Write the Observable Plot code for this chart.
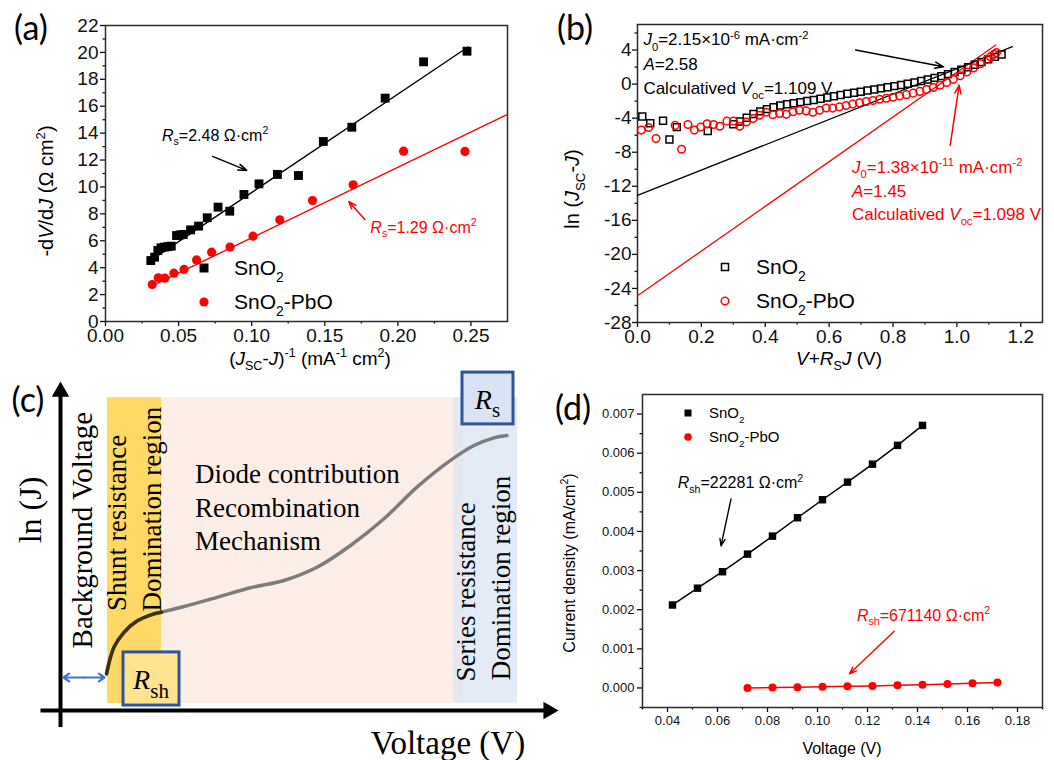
<!DOCTYPE html>
<html><head><meta charset="utf-8">
<script src="https://cdn.jsdelivr.net/npm/d3@7"></script>
<script src="https://cdn.jsdelivr.net/npm/@observablehq/plot@0.6"></script>
<style>
html,body{margin:0;padding:0;background:#fff;}
#fig{position:relative;width:1054px;height:760px;overflow:hidden;background:#fff;}
.panel{position:absolute;}
.panel svg{display:block;}
</style></head><body><div id="fig"></div>
<script>
const SANS = "'Liberation Sans', Arial, Helvetica, sans-serif";
const SERIF = "'Liberation Serif', 'Times New Roman', serif";
const TAG = "Lato, 'Open Sans', sans-serif";

// ---------- Panel (a): -dV/dJ vs (Jsc-J)^-1 ----------
const aSnO2 = [[0.031,4.53],[0.0336,4.78],[0.0358,5.28],[0.038,5.48],[0.0404,5.53],[0.0427,5.57],[0.045,5.6],[0.0486,6.39],[0.051,6.44],[0.0532,6.47],[0.0582,6.81],[0.0637,7.09],[0.0696,7.71],[0.077,8.5],[0.085,8.2],[0.0947,9.44],[0.105,10.23],[0.1176,10.93],[0.132,10.85],[0.149,13.38],[0.1685,14.44],[0.1913,16.6],[0.2176,19.3],[0.2473,20.09]];
const aPbO = [[0.032,2.75],[0.0361,3.25],[0.0406,3.22],[0.0468,3.59],[0.0537,3.87],[0.0623,4.58],[0.0726,5.15],[0.0852,5.53],[0.1009,6.34],[0.1192,7.56],[0.1416,8.99],[0.1694,10.16],[0.2039,12.66],[0.2459,12.64]];
const aFitSnO2 = [[0.029,4.4],[0.248,20.4]];
const aFitPbO = [[0.030,2.55],[0.275,15.4]];
const aArrowSnO2 = [{x1:0.0733,y1:12.27,x2:0.0966,y2:11.23}];
const aArrowPbO = [{x1:0.1774,y1:7.58,x2:0.1664,y2:8.92}];
const aTicksX = [0,0.05,0.1,0.15,0.2,0.25];
const aMinorX = [0.025,0.075,0.125,0.175,0.225];
const aTicksY = [0,2,4,6,8,10,12,14,16,18,20,22];
const aMinorY = [1,3,5,7,9,11,13,15,17,19,21];

// ---------- Panel (b): ln(Jsc-J) vs V+RsJ ----------
const bSnO2 = [[0.015,-3.8],[0.040,-4.6],[0.080,-4.3],[0.100,-6.5],[0.123,-5.05],[0.220,-5.5],
[0.300,-4.72],[0.321,-4.40],[0.342,-3.95],[0.363,-3.52],[0.384,-3.20],[0.405,-2.94],[0.426,-2.71],[0.447,-2.52],[0.468,-2.37],[0.489,-2.25],[0.510,-2.12],[0.531,-1.98],[0.552,-1.86],[0.573,-1.73],[0.594,-1.58],[0.615,-1.42],[0.636,-1.28],[0.657,-1.14],[0.678,-1.01],[0.699,-0.89],[0.720,-0.76],[0.741,-0.63],[0.762,-0.50],[0.783,-0.37],[0.804,-0.24],[0.825,-0.10],[0.846,0.05],[0.867,0.20],[0.888,0.36],[0.909,0.54],[0.930,0.73],[0.951,0.94],[0.972,1.17],[0.993,1.42],[1.014,1.69],[1.035,1.98],[1.056,2.28],[1.077,2.59],[1.098,2.90],[1.119,3.20],[1.140,3.48]];
const bPbO = [[0.012,-5.4],[0.035,-5.1],[0.058,-6.4],[0.118,-4.85],[0.138,-7.65],[0.158,-4.75],[0.178,-5.4],[0.198,-5.05],[0.218,-4.65],[0.238,-4.75],[0.258,-4.95],[0.280,-4.35],[0.300,-4.35],[0.320,-4.95],[0.341,-4.45],[0.362,-4.05],[0.382,-3.65],[0.403,-3.30],[0.424,-3.60],[0.445,-3.45],[0.466,-3.55],[0.487,-3.25],[0.507,-3.07],[0.528,-3.15],[0.549,-3.30],[0.570,-3.07],[0.591,-2.80],[0.611,-2.82],[0.632,-2.68],[0.653,-2.52],[0.674,-2.35],[0.695,-2.20],[0.716,-2.05],[0.737,-1.92],[0.758,-1.78],[0.779,-1.66],[0.800,-1.54],[0.821,-1.40],[0.842,-1.24],[0.863,-1.06],[0.884,-0.86],[0.905,-0.64],[0.926,-0.40],[0.947,-0.14],[0.968,0.18],[0.989,0.56],[1.010,0.98],[1.031,1.42],[1.052,1.90],[1.073,2.40],[1.094,2.90],[1.105,3.20],[1.116,3.50],[1.124,3.70]];
const bFitSnO2 = [[0,-13.08],[1.174,4.39]];
const bFitPbO = [[0,-24.86],[1.122,4.59]];
const bArrowSnO2 = [{x1:0.683,y1:4.0,x2:0.958,y2:2.03}];
const bArrowPbO = [{x1:0.979,y1:-7.19,x2:1.007,y2:-0.12}];
const bTicksX = [0,0.2,0.4,0.6,0.8,1.0,1.2];
const bMinorX = [0.1,0.3,0.5,0.7,0.9,1.1];
const bTicksY = [-28,-24,-20,-16,-12,-8,-4,0,4];
const bMinorY = [-26,-22,-18,-14,-10,-6,-2,2,6];

// ---------- Panel (c): schematic ln(J) vs Voltage ----------
const cBands = [
  {region:"diode", v0:2.02, v1:8.06, j0:0.21, j1:9.48},
  {region:"shunt", v0:0.94, v1:2.02, j0:0.21, j1:9.48},
  {region:"series", v0:7.86, v1:9.14, j0:0.21, j1:9.48}
];
const cCurve = [[0.92,1.11],[1.07,1.92],[1.27,2.37],[1.53,2.71],[1.87,2.93],[2.02,2.98],[2.47,3.15],[3.13,3.43],[3.8,3.72],[4.47,3.94],[5.13,4.34],[5.8,5.0],[6.47,5.81],[7.13,6.77],[7.8,7.58],[8.27,8.03],[8.67,8.26],[8.93,8.33]];
const cBoxes = [{name:"Rsh", v0:1.26, v1:2.38, j0:0.15, j1:1.76},{name:"Rs", v0:8.04, v1:9.06, j0:8.67, j1:10.24}];
const cAxisLines = [{x1:0,y1:-0.5,x2:0,y2:9.6},{x1:-0.4,y1:0,x2:9.7,y2:0}];
const cAxisHeads = [{x:0,y:9.66,dir:0},{x:9.76,y:0,dir:90}];
const cBackground = [{from:0.47,to:0.06,y:1.0},{from:0.47,to:0.88,y:1.0}];

// ---------- Panel (d): J vs V (shunt) ----------
const dV_SnO2 = [0.042,0.052,0.062,0.072,0.082,0.092,0.102,0.112,0.122,0.132,0.142];
const dJ_SnO2 = [0.00212,0.00255,0.00297,0.00342,0.00388,0.00435,0.00481,0.00526,0.00572,0.0062,0.00671];
const dV_PbO = [0.072,0.082,0.092,0.102,0.112,0.122,0.132,0.142,0.152,0.162,0.172];
const dJ_PbO = [0.0,0.00001,0.00002,0.00003,0.00004,0.00005,0.00007,0.00008,0.0001,0.00012,0.00014];
const dArrowSnO2 = [{x1:0.0654,y1:0.00483,x2:0.0614,y2:0.00363}];
const dArrowPbO = [{x1:0.1307,y1:0.00145,x2:0.1128,y2:0.00036}];
const dTicksX = [0.04,0.06,0.08,0.10,0.12,0.14,0.16,0.18];
const dMinorX = [0.03,0.05,0.07,0.09,0.11,0.13,0.15,0.17,0.19];
const dTicksY = [0,0.001,0.002,0.003,0.004,0.005,0.006,0.007];
const dMinorY = [-0.0005,0.0005,0.0015,0.0025,0.0035,0.0045,0.0055,0.0065];

const dSnO2 = dV_SnO2.map((v,i) => [v, dJ_SnO2[i]]);
const dPbO = dV_PbO.map((v,i) => [v, dJ_PbO[i]]);

// ---------- helpers ----------
const fig = document.getElementById("fig");
function mount(plot, left, top) {
  const div = document.createElement("div");
  div.className = "panel"; div.style.left = left + "px"; div.style.top = top + "px";
  div.appendChild(plot); fig.appendChild(div);
  const sx = plot.scale("x"), sy = plot.scale("y");
  return {X: v => left + sx.apply(v), Y: v => top + sy.apply(v)};
}
const xy = {x: d => d[0], y: d => d[1]};
function frameAxes({tx, mx, ty, my, fx, fy, len, padX, padY, fs}) {
  return [
    Plot.axisX({ticks: tx, tickFormat: fx, tickSize: len, tickPadding: padX, label: null, fontSize: fs, strokeWidth: 1.3}),
    Plot.axisX({ticks: mx, tickFormat: () => "", tickSize: len / 2, label: null, strokeWidth: 1.3}),
    Plot.axisY({ticks: ty, tickFormat: fy, tickSize: len, tickPadding: padY, label: null, fontSize: fs, strokeWidth: 1.3}),
    Plot.axisY({ticks: my, tickFormat: () => "", tickSize: len / 2, label: null, strokeWidth: 1.3}),
    Plot.frame({stroke: "#2b2b2b", strokeWidth: 1.5})
  ];
}
const baseStyle = fs => ({fontFamily: SANS, fontSize: fs + "px", background: "none", overflow: "visible", color: "#111"});

// ---------- Panel (a) ----------
const A = mount(Plot.plot({
  width: 540, height: 370, marginLeft: 105, marginRight: 33, marginTop: 25, marginBottom: 49,
  x: {domain: [0, 0.275], axis: null}, y: {domain: [0, 22], axis: null},
  style: baseStyle(19),
  marks: [
    ...frameAxes({tx: aTicksX, mx: aMinorX, ty: aTicksY, my: aMinorY, fx: d => d.toFixed(2), fy: d => String(d), len: 5, padX: 2, padY: 2, fs: 19}),
    Plot.line(aFitSnO2, {...xy, stroke: "black", strokeWidth: 1.4}),
    Plot.line(aFitPbO, {...xy, stroke: "red", strokeWidth: 1.4}),
    Plot.dot(aSnO2, {...xy, symbol: "square", r: 5, fill: "black"}),
    Plot.dot(aPbO, {...xy, symbol: "circle", r: 4.6, fill: "red"}),
    Plot.arrow(aArrowSnO2, {x1: "x1", y1: "y1", x2: "x2", y2: "y2", stroke: "black", strokeWidth: 1.5, headLength: 9, headAngle: 40}),
    Plot.arrow(aArrowPbO, {x1: "x1", y1: "y1", x2: "x2", y2: "y2", stroke: "red", strokeWidth: 1.5, headLength: 9, headAngle: 40})
  ]
}), 0, 0);

// ---------- Panel (b) ----------
const B = mount(Plot.plot({
  width: 534, height: 370, marginLeft: 117, marginRight: 12, marginTop: 24, marginBottom: 48,
  x: {domain: [0, 1.268], axis: null}, y: {domain: [-28, 7], axis: null},
  style: baseStyle(19),
  marks: [
    ...frameAxes({tx: bTicksX, mx: bMinorX, ty: bTicksY, my: bMinorY, fx: d => d.toFixed(1), fy: d => String(d), len: 5, padX: 2, padY: 1, fs: 19}),
    Plot.line(bFitSnO2, {...xy, stroke: "black", strokeWidth: 1.3}),
    Plot.line(bFitPbO, {...xy, stroke: "red", strokeWidth: 1.3}),
    Plot.dot(bSnO2, {...xy, symbol: "square", r: 3.9, stroke: "black", strokeWidth: 1.5, fill: "none"}),
    Plot.dot(bPbO, {...xy, symbol: "circle", r: 3.8, stroke: "red", strokeWidth: 1.5, fill: "none"}),
    Plot.arrow(bArrowSnO2, {x1: "x1", y1: "y1", x2: "x2", y2: "y2", stroke: "black", strokeWidth: 1.5, headLength: 9, headAngle: 40}),
    Plot.arrow(bArrowPbO, {x1: "x1", y1: "y1", x2: "x2", y2: "y2", stroke: "red", strokeWidth: 1.5, headLength: 9, headAngle: 40})
  ]
}), 520, 0);

// ---------- Panel (c) ----------
const bandFill = {diode: "#FCEEE6", shunt: "#FFD966", series: "#DCE6F4"};
const bandOpacity = {diode: 1, shunt: 1, series: 0.8};
const C = mount(Plot.plot({
  width: 560, height: 390, marginLeft: 0, marginRight: 0, marginTop: 10, marginBottom: 50,
  x: {domain: [-1.2, 10], axis: null}, y: {domain: [0, 10], axis: null},
  style: {...baseStyle(16), fontFamily: SERIF},
  marks: [
    Plot.rect(cBands, {x1: "v0", x2: "v1", y1: "j0", y2: "j1", fill: d => bandFill[d.region], fillOpacity: d => bandOpacity[d.region]}),
    Plot.line(cCurve, {...xy, curve: "catmull-rom", stroke: "#7c7c7c", strokeWidth: 3.5}),
    Plot.line(cCurve.filter(d => d[0] <= 2.02), {...xy, curve: "catmull-rom", stroke: "#3d3300", strokeWidth: 3.5}),
    Plot.rect(cBoxes, {x1: "v0", x2: "v1", y1: "j0", y2: "j1", fill: d => d.name === "Rsh" ? "#FFE38E" : "#DAE3F3", stroke: "#2F5597", strokeWidth: 3}),
    Plot.link(cAxisLines, {x1: "x1", y1: "y1", x2: "x2", y2: "y2", stroke: "black", strokeWidth: 4}),
    Plot.dot(cAxisHeads, {x: "x", y: "y", symbol: "triangle", r: 6.5, fill: "black", rotate: "dir"}),
    Plot.arrow(cBackground, {x1: "from", x2: "to", y1: "y", y2: "y", stroke: "#4472C4", strokeWidth: 2.2, headLength: 7, headAngle: 70})
  ]
}), 0, 370);

// ---------- Panel (d) ----------
const D = mount(Plot.plot({
  width: 534, height: 390, marginLeft: 122, marginRight: 12, marginTop: 24, marginBottom: 53,
  x: {domain: [0.03, 0.19], axis: null}, y: {domain: [-0.0005, 0.0075], axis: null},
  style: baseStyle(13),
  marks: [
    ...frameAxes({tx: dTicksX, mx: dMinorX, ty: dTicksY, my: dMinorY, fx: d => d.toFixed(2), fy: d => d.toFixed(3), len: 5, padX: 3, padY: 3, fs: 13}),
    Plot.line(dSnO2, {...xy, stroke: "black", strokeWidth: 1.5}),
    Plot.line(dPbO, {...xy, stroke: "red", strokeWidth: 1.5}),
    Plot.dot(dSnO2, {...xy, symbol: "square", r: 4.2, fill: "black"}),
    Plot.dot(dPbO, {...xy, symbol: "circle", r: 4, fill: "red"}),
    Plot.arrow(dArrowSnO2, {x1: "x1", y1: "y1", x2: "x2", y2: "y2", stroke: "black", strokeWidth: 1.4, headLength: 8, headAngle: 40}),
    Plot.arrow(dArrowPbO, {x1: "x1", y1: "y1", x2: "x2", y2: "y2", stroke: "red", strokeWidth: 1.4, headLength: 8, headAngle: 40})
  ]
}), 520, 370);

// ---------- overlay text ----------
const ov = d3.select("#fig").append("svg")
  .attr("width", 1054).attr("height", 760)
  .style("position", "absolute").style("left", "0").style("top", "0").style("overflow", "visible");

function parseRich(str) {
  const out = []; let italic = false, buf = "", i = 0;
  const flush = () => { if (buf) out.push({text: buf, italic, shift: 0}); buf = ""; };
  while (i < str.length) {
    const c = str[i];
    if ((c === "_" || c === "^") && str[i + 1] === "{") {
      flush();
      const j = str.indexOf("}", i);
      out.push({text: str.slice(i + 2, j), italic: false, shift: c === "_" ? 1 : -1});
      i = j + 1;
    } else if (c === "*") { flush(); italic = !italic; i++; }
    else { buf += c; i++; }
  }
  flush();
  return out;
}
function rich(x, y, str, {size = 16, fill = "#000", anchor = "start", rotate = 0, font = SANS, sub = 0.66} = {}) {
  const t = ov.append("text")
    .attr("transform", `translate(${x},${y})` + (rotate ? ` rotate(${rotate})` : ""))
    .attr("font-family", font).attr("font-size", size).attr("fill", fill)
    .attr("text-anchor", anchor).style("white-space", "pre");
  let prev = 0;
  for (const p of parseRich(str)) {
    const target = size * 0.35 + (p.shift === 1 ? size * 0.3 : p.shift === -1 ? -size * 0.4 : 0);
    t.append("tspan").attr("dy", target - prev)
      .attr("font-size", p.shift ? size * sub : size)
      .attr("font-style", p.italic ? "italic" : "normal")
      .text(p.text);
    prev = target;
  }
}
function sym(x, y, type, size, {fill = "none", stroke = "none", sw = 1.5} = {}) {
  const area = type === "square" ? size * size : Math.PI * size * size;
  ov.append("path").attr("transform", `translate(${x},${y})`)
    .attr("d", d3.symbol(type === "square" ? d3.symbolSquare : d3.symbolCircle, area)())
    .attr("fill", fill).attr("stroke", stroke).attr("stroke-width", sw);
}

// panel tags
rich(31, 28, "(a)", {size: 34, font: TAG, anchor: "middle"});
rich(575, 28, "(b)", {size: 34, font: TAG, anchor: "middle"});
rich(28, 400, "(c)", {size: 34, font: TAG, anchor: "middle"});
rich(573, 408, "(d)", {size: 34, font: TAG, anchor: "middle"});

// (a)
rich(46, 191, "-d*V*/d*J* (Ω cm^{2})", {size: 20, rotate: -90, anchor: "middle"});
rich(310, 358, "(*J*_{SC}-*J*)^{-1} (mA^{-1} cm^{2})", {size: 19, anchor: "middle"});
rich(A.X(0.039), A.Y(13.83), "*R*_{s}=2.48 Ω·cm^{2}", {size: 16});
rich(A.X(0.1815), A.Y(6.99), "*R*_{s}=1.29 Ω·cm^{2}", {size: 16, fill: "red"});
sym(204, 268, "square", 9, {fill: "black"});
rich(234, 268, "SnO_{2}", {size: 21});
sym(204, 302, "circle", 4.6, {fill: "red"});
rich(234, 302, "SnO_{2}-PbO", {size: 21});

// (b)
rich(572, 189, "ln (*J*_{SC}-*J*)", {size: 20, rotate: -90, anchor: "middle"});
rich(839, 358, "*V*+*R*_{S}*J* (V)", {size: 19, anchor: "middle"});
rich(B.X(0.02), B.Y(5.18), "*J*_{0}=2.15×10^{-6} mA·cm^{-2}", {size: 17});
rich(B.X(0.02), B.Y(2.35), "*A*=2.58", {size: 17});
rich(B.X(0.02), B.Y(-0.48), "Calculatived *V*_{oc}=1.109 V", {size: 17});
rich(B.X(0.673), B.Y(-9.78), "*J*_{0}=1.38×10^{-11} mA·cm^{-2}", {size: 17, fill: "red"});
rich(B.X(0.673), B.Y(-12.6), "*A*=1.45", {size: 17, fill: "red"});
rich(B.X(0.673), B.Y(-15.3), "Calculatived *V*_{oc}=1.098 V", {size: 17, fill: "red"});
sym(725, 267, "square", 7, {stroke: "black", sw: 1.5});
rich(756, 267, "SnO_{2}", {size: 21});
sym(725, 301, "circle", 3.8, {stroke: "red", sw: 1.5});
rich(756, 301, "SnO_{2}-PbO", {size: 21});

// (c)
rich(C.X(-0.6), C.Y(6.06), "ln (J)", {size: 32, rotate: -90, anchor: "middle", font: SERIF});
rich(C.X(0.44), C.Y(5.45), "Background Voltage", {size: 29, rotate: -90, anchor: "middle", font: SERIF});
rich(C.X(1.14), C.Y(5.67), "Shunt resistance", {size: 27, rotate: -90, anchor: "middle", font: SERIF});
rich(C.X(1.84), C.Y(6.09), "Domination region", {size: 27, rotate: -90, anchor: "middle", font: SERIF});
rich(C.X(2.7), C.Y(7.18), "Diode contribution", {size: 27, font: SERIF});
rich(C.X(2.7), C.Y(6.15), "Recombination", {size: 27, font: SERIF});
rich(C.X(2.7), C.Y(5.15), "Mechanism", {size: 27, font: SERIF});
rich(C.X(8.12), C.Y(3.58), "Series resistance", {size: 27, rotate: -90, anchor: "middle", font: SERIF});
rich(C.X(8.82), C.Y(4.0), "Domination region", {size: 27, rotate: -90, anchor: "middle", font: SERIF});
rich(C.X(1.82), C.Y(0.93), "*R*_{sh}", {size: 28, anchor: "middle", font: SERIF, sub: 0.75});
rich(C.X(8.55), C.Y(9.42), "*R*_{s}", {size: 28, anchor: "middle", font: SERIF, sub: 0.75});
rich(C.X(7.76), C.Y(-0.97), "Voltage (V)", {size: 33, anchor: "middle", font: SERIF});

// (d)
rich(569, 563, "Current density (mA/cm^{2})", {size: 16, rotate: -90, anchor: "middle"});
rich(842, 748, "Voltage (V)", {size: 16, anchor: "middle"});
rich(D.X(0.0443), D.Y(0.00523), "*R*_{sh}=22281 Ω·cm^{2}", {size: 16});
rich(D.X(0.116), D.Y(0.00185), "*R*_{sh}=671140 Ω·cm^{2}", {size: 16, fill: "red"});
sym(688, 413, "square", 7, {fill: "black"});
rich(709, 413, "SnO_{2}", {size: 15});
sym(688, 437, "circle", 3.8, {fill: "red"});
rich(709, 437, "SnO_{2}-PbO", {size: 15});
</script></body></html>
